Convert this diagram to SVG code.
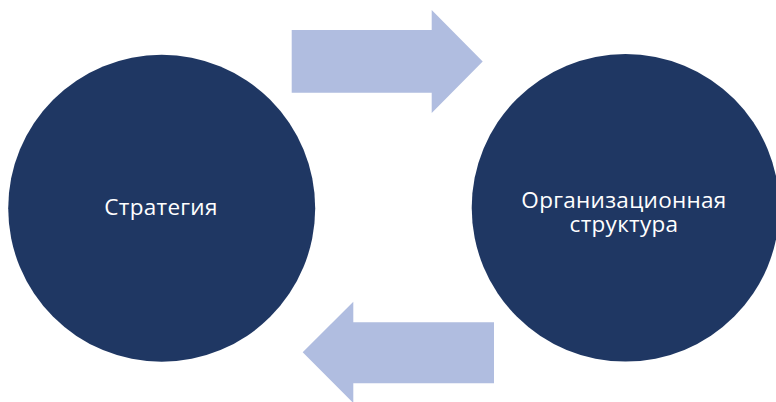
<svg xmlns="http://www.w3.org/2000/svg" width="776" height="402" viewBox="0 0 776 402">
<style>
.node{fill:#1F3763}
.arrow{fill:#B0BDE0}
.lbl{font-family:"Open Sans","Noto Sans","DejaVu Sans",sans-serif;font-size:22.5px;letter-spacing:0.3px;fill:#FFFFFF;text-anchor:middle}
</style>
<rect width="776" height="402" fill="#FFFFFF"/>
<g id="connectors">
<polygon class="arrow" points="291.7,30 431.7,30 431.7,10 482.7,61.5 431.7,113 431.7,92.7 291.7,92.7"/>
<polygon class="arrow" points="494,322.3 353.3,322.3 353.3,301.7 302.7,352.3 353.3,403 353.3,383.3 494,383.3"/>
</g>
<g id="strategy">
<circle class="node" cx="161.7" cy="208.3" r="153.5"/>
<text class="lbl" x="161" y="215">Стратегия</text>
</g>
<g id="org-structure">
<circle class="node" cx="625.5" cy="207.8" r="153.8"/>
<text class="lbl" x="624" y="207.5">Организационная</text>
<text class="lbl" x="624" y="231.5">структура</text>
</g>
</svg>
